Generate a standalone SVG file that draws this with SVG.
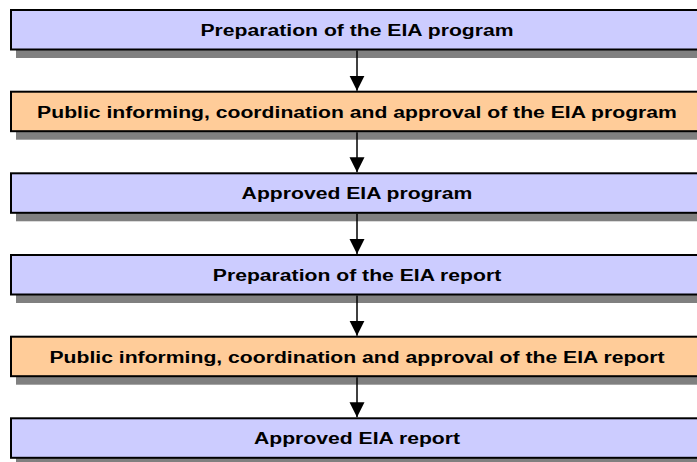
<svg xmlns="http://www.w3.org/2000/svg" width="697" height="462" viewBox="0 0 697 462">
<style>
.shadow{fill:#808080;}
.box{stroke:#000;stroke-width:2;}
.blue{fill:#CCCCFF;}
.orange{fill:#FFCC99;}
.lbl{font-family:"Liberation Sans",Arial,sans-serif;font-weight:bold;font-size:17px;fill:#000;text-anchor:middle;}
.conn{stroke:#000;stroke-width:1.5;fill:none;}
</style>
<defs>
<marker id="arr" markerUnits="userSpaceOnUse" markerWidth="16" markerHeight="16" viewBox="0 0 16 16" refX="15" refY="8" orient="auto">
<path d="M0,0.5 L15,8 L0,15.5 Z" fill="#000"/>
</marker>
</defs>
<rect width="697" height="462" fill="#fff"/>
<g id="n1">
<rect class="shadow" x="16" y="17" width="700" height="41"/>
<rect class="box blue" x="11" y="10" width="700" height="39.5"/>
<text class="lbl" transform="translate(357,35.8) scale(1.245,1)">Preparation of the EIA program</text>
</g>
<g id="n2">
<rect class="shadow" x="16" y="98.7" width="700" height="41"/>
<rect class="box orange" x="11" y="91.7" width="700" height="39.5"/>
<text class="lbl" transform="translate(357,117.8) scale(1.245,1)">Public informing, coordination and approval of the EIA program</text>
</g>
<g id="n3">
<rect class="shadow" x="16" y="180.3" width="700" height="41"/>
<rect class="box blue" x="11" y="173.3" width="700" height="39.5"/>
<text class="lbl" transform="translate(357,199.3) scale(1.245,1)">Approved EIA program</text>
</g>
<g id="n4">
<rect class="shadow" x="16" y="262" width="700" height="41"/>
<rect class="box blue" x="11" y="255" width="700" height="39.5"/>
<text class="lbl" transform="translate(357,281) scale(1.245,1)">Preparation of the EIA report</text>
</g>
<g id="n5">
<rect class="shadow" x="16" y="343.7" width="700" height="41"/>
<rect class="box orange" x="11" y="336.7" width="700" height="39.5"/>
<text class="lbl" transform="translate(357,362.7) scale(1.245,1)">Public informing, coordination and approval of the EIA report</text>
</g>
<g id="n6">
<rect class="shadow" x="16" y="425.3" width="700" height="41"/>
<rect class="box blue" x="11" y="418.3" width="700" height="39.5"/>
<text class="lbl" transform="translate(357,444.3) scale(1.245,1)">Approved EIA report</text>
</g>
<g id="connectors">
<line class="conn" x1="357" y1="50.5" x2="357" y2="90.7" marker-end="url(#arr)"/>
<line class="conn" x1="357" y1="132.2" x2="357" y2="172.3" marker-end="url(#arr)"/>
<line class="conn" x1="357" y1="213.8" x2="357" y2="254" marker-end="url(#arr)"/>
<line class="conn" x1="357" y1="295.5" x2="357" y2="335.7" marker-end="url(#arr)"/>
<line class="conn" x1="357" y1="377.2" x2="357" y2="417.3" marker-end="url(#arr)"/>
</g>
</svg>
